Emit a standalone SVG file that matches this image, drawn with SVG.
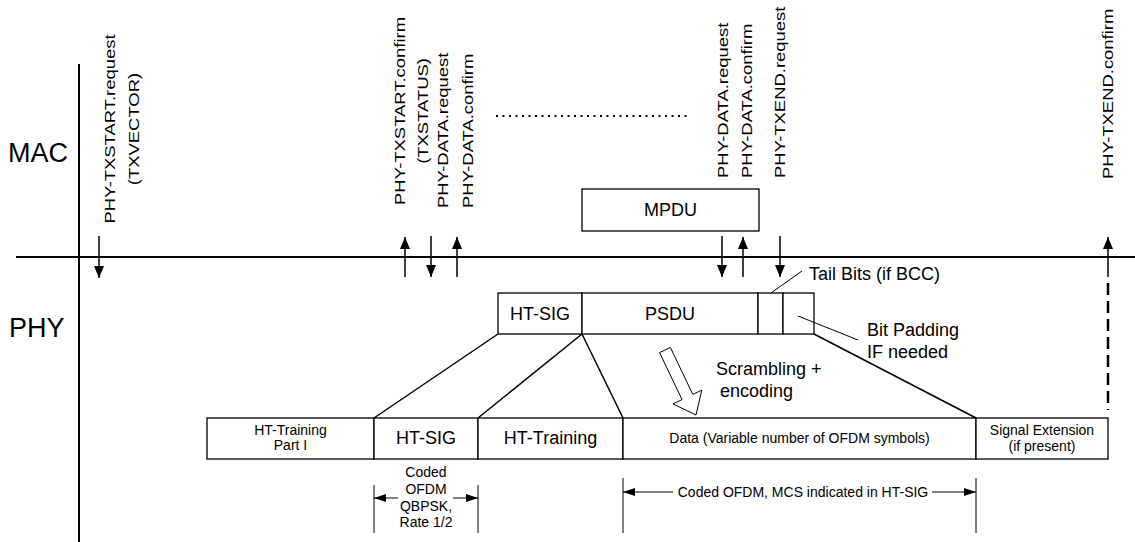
<svg xmlns="http://www.w3.org/2000/svg" width="1135" height="542" viewBox="0 0 1135 542">
<defs>
<style>
text{font-family:"Liberation Sans",Arial,sans-serif;fill:#000}
.big{font-size:27px}
.lbl{font-size:18px}
.sm{font-size:14px}
.vt{font-size:15.5px}
.axis{stroke:#000;stroke-width:2;fill:none}
.box{stroke:#000;stroke-width:1.3;fill:#fff}
.ln{stroke:#000;stroke-width:1.5;fill:none}
.thin{stroke:#000;stroke-width:1;fill:none}
.arr{stroke:#000;stroke-width:1.5;fill:none;marker-end:url(#ah)}
.dim{stroke:#000;stroke-width:1;fill:none;marker-end:url(#ahs)}
</style>
<marker id="ah" viewBox="0 0 12 10" refX="12" refY="5" markerWidth="12" markerHeight="10" markerUnits="userSpaceOnUse" orient="auto"><path d="M0,0 L12,5 L0,10 z" fill="#000"/></marker>
<marker id="ahs" viewBox="0 0 12 8" refX="12" refY="4" markerWidth="12" markerHeight="8" markerUnits="userSpaceOnUse" orient="auto"><path d="M0,0 L12,4 L0,8 z" fill="#000"/></marker>
</defs>
<rect width="1135" height="542" fill="#fff"/>

<g id="axes">
<line class="axis" x1="79" y1="64" x2="79" y2="542"/>
<line class="axis" x1="16" y1="257" x2="1135" y2="257"/>
<text class="big" x="8" y="162">MAC</text>
<text class="big" x="9" y="337">PHY</text>
</g>

<g id="primitive-labels">
<text class="vt" text-anchor="middle" transform="translate(115,129) rotate(-90) scale(1.19,1)">PHY-TXSTART.request</text>
<text class="vt" text-anchor="middle" transform="translate(139,129) rotate(-90) scale(1.19,1)">(TXVECTOR)</text>
<text class="vt" text-anchor="middle" transform="translate(405,111) rotate(-90) scale(1.19,1)">PHY-TXSTART.confirm</text>
<text class="vt" text-anchor="middle" transform="translate(428,111) rotate(-90) scale(1.19,1)">(TXSTATUS)</text>
<text class="vt" transform="translate(448,208) rotate(-90) scale(1.19,1)">PHY-DATA.request</text>
<text class="vt" transform="translate(473,208) rotate(-90) scale(1.19,1)">PHY-DATA.confirm</text>
<text class="vt" transform="translate(728,178) rotate(-90) scale(1.19,1)">PHY-DATA.request</text>
<text class="vt" transform="translate(752,178) rotate(-90) scale(1.19,1)">PHY-DATA.confirm</text>
<text class="vt" transform="translate(785,178) rotate(-90) scale(1.19,1)">PHY-TXEND.request</text>
<text class="vt" transform="translate(1113,179) rotate(-90) scale(1.19,1)">PHY-TXEND.confirm</text>
</g>

<g id="mpdu">
<rect class="box" x="582" y="189" width="177" height="42"/>
<text class="lbl" x="670.5" y="216" text-anchor="middle">MPDU</text>
</g>

<g id="ht-sig-top">
<rect class="box" x="498" y="293" width="84" height="41"/>
<text class="lbl" x="540" y="320" text-anchor="middle">HT-SIG</text>
</g>
<g id="psdu">
<rect class="box" x="582" y="293" width="176" height="41"/>
<text class="lbl" x="670" y="320" text-anchor="middle">PSDU</text>
</g>
<g id="tail-bits">
<rect class="box" x="758" y="293" width="25" height="41"/>
</g>
<g id="bit-padding">
<rect class="box" x="783" y="293" width="31" height="41"/>
</g>

<g id="ht-training-1">
<rect class="box" x="207" y="418" width="167" height="41"/>
<text class="sm" x="290.5" y="435" text-anchor="middle">HT-Training</text>
<text class="sm" x="290.5" y="450" text-anchor="middle">Part I</text>
</g>
<g id="ht-sig-phy">
<rect class="box" x="374" y="418" width="104" height="41"/>
<text class="lbl" x="426" y="444" text-anchor="middle">HT-SIG</text>
</g>
<g id="ht-training-2">
<rect class="box" x="478" y="418" width="145" height="41"/>
<text class="lbl" x="550.5" y="444" text-anchor="middle">HT-Training</text>
</g>
<g id="data">
<rect class="box" x="623" y="418" width="353" height="41"/>
<text class="sm" x="799.5" y="443" text-anchor="middle">Data (Variable number of OFDM symbols)</text>
</g>
<g id="signal-extension">
<rect class="box" x="976" y="418" width="132" height="41"/>
<text class="sm" x="1042" y="435" text-anchor="middle">Signal Extension</text>
<text class="sm" x="1042" y="451" text-anchor="middle">(if present)</text>
</g>

<g id="annotations">
<text class="lbl" x="809" y="280">Tail Bits (if BCC)</text>
<text class="lbl" x="867" y="336">Bit Padding</text>
<text class="lbl" x="867" y="358">IF needed</text>
<text class="lbl" x="716" y="375">Scrambling +</text>
<text class="lbl" x="720" y="397">encoding</text>
<text class="sm" x="426" y="477" text-anchor="middle">Coded</text>
<text class="sm" x="426" y="494" text-anchor="middle">OFDM</text>
<text class="sm" x="426" y="511" text-anchor="middle">QBPSK,</text>
<text class="sm" x="426" y="527" text-anchor="middle">Rate 1/2</text>
<text class="sm" x="803" y="497" text-anchor="middle">Coded OFDM, MCS indicated in HT-SIG</text>
<polygon points="659.6,352.6 670.4,347.4 692.8,394.4 701.8,390.1 696,415 673,403.9 682,399.6" fill="#fff" stroke="#000" stroke-width="1"/>
</g>

<g id="connectors">
<line x1="496" y1="116" x2="690" y2="116" stroke="#000" stroke-width="2" stroke-dasharray="2 4.5"/>
<line class="arr" x1="99" y1="236" x2="99" y2="278"/>
<line class="arr" x1="405" y1="277" x2="405" y2="237"/>
<line class="arr" x1="431" y1="236" x2="431" y2="277"/>
<line class="arr" x1="457" y1="277" x2="457" y2="237"/>
<line class="arr" x1="722" y1="236" x2="722" y2="277"/>
<line class="arr" x1="743" y1="277" x2="743" y2="237"/>
<line class="arr" x1="780" y1="236" x2="780" y2="277"/>
<line class="arr" x1="1108" y1="277" x2="1108" y2="237"/>
<line x1="1108" y1="283" x2="1108" y2="410" stroke="#000" stroke-width="2.5" stroke-dasharray="12 6"/>
<line class="ln" x1="498" y1="334" x2="374" y2="418"/>
<line class="ln" x1="582" y1="334" x2="478" y2="418"/>
<line class="ln" x1="582" y1="334" x2="623" y2="418"/>
<line class="ln" x1="814" y1="334" x2="976" y2="418"/>
<line class="thin" x1="771" y1="293" x2="802" y2="271"/>
<line class="thin" x1="798" y1="316" x2="858" y2="340"/>
<line class="thin" x1="374" y1="485" x2="374" y2="533"/>
<line class="thin" x1="478" y1="485" x2="478" y2="533"/>
<line class="dim" x1="398" y1="498" x2="374" y2="498"/>
<line class="dim" x1="453" y1="498" x2="478" y2="498"/>
<line class="thin" x1="623" y1="478" x2="623" y2="533"/>
<line class="thin" x1="976" y1="478" x2="976" y2="533"/>
<line class="dim" x1="673" y1="492" x2="623" y2="492"/>
<line class="dim" x1="932" y1="492" x2="976" y2="492"/>
</g>
</svg>
